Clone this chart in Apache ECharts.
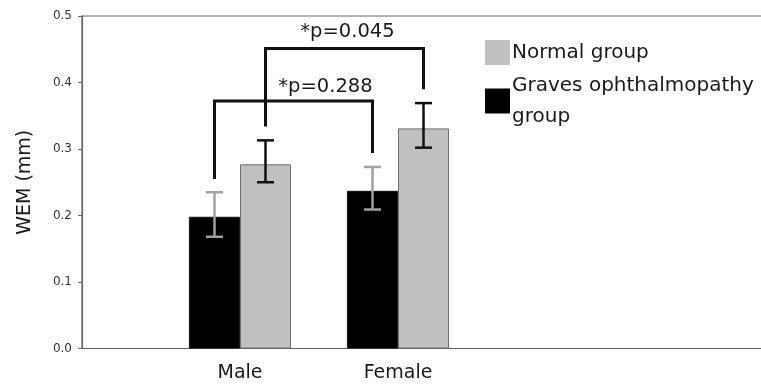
<!DOCTYPE html>
<html>
<head>
<meta charset="utf-8">
<script src="https://cdn.jsdelivr.net/npm/echarts@6/dist/echarts.min.js"></script>
<style>html,body{margin:0;padding:0;background:#fff;overflow:hidden}#c{width:761px;height:386px}</style>
</head>
<body>
<div id="c"></div>
<script>
// ---- data ----
var categories = ['', 'Male', 'Female', '', '', ''];
var gravesName = 'Graves ophthalmopathy group';
var normalName = 'Normal group';
var gravesValues = [null, 0.198, 0.237, null, null, null];
var normalValues = [null, 0.277, 0.331, null, null, null];
// error bars: [category index, low, high]
var gravesErr = [[1, 0.168, 0.235], [2, 0.209, 0.273]];
var normalErr = [[1, 0.250, 0.313], [2, 0.302, 0.369]];
// brackets: [fromCat, fromSide(-1 graves/+1 normal), toCat, toSide, top, leftEnd, rightEnd]
var brackets = [[1, -1, 2, -1, 0.372, 0.255, 0.294], [1, 1, 2, 1, 0.451, 0.334, 0.390]];
var bracketLabels = ['*p=0.288', '*p=0.045'];
var yTicks = [0, 0.1, 0.2, 0.3, 0.4, 0.5];

// ---- layout / style ----
var FONT = 'DejaVu Sans';
var BAR_W = 51;
var labelShift = [32, 3];
var labelRise = [14, 17];

var chart = echarts.init(document.getElementById('c'));

function errRender(color) {
  return function (params, api) {
    var side = params.seriesName === 'errG' ? -1 : 1;
    var lo = api.coord([api.value(0), api.value(1)]);
    var hi = api.coord([api.value(0), api.value(2)]);
    var x = lo[0] + side * BAR_W / 2;
    var cap = 8.5;
    var st = { stroke: color, lineWidth: 2.5 };
    return { type: 'group', children: [
      { type: 'line', shape: { x1: x, y1: lo[1], x2: x, y2: hi[1] }, style: st },
      { type: 'line', shape: { x1: x - cap, y1: lo[1], x2: x + cap, y2: lo[1] }, style: st },
      { type: 'line', shape: { x1: x - cap, y1: hi[1], x2: x + cap, y2: hi[1] }, style: st }
    ]};
  };
}

chart.setOption({
  animation: false,
  grid: { left: 82, top: 16, bottom: 37.5, right: -111, outerBoundsMode: 'none', containLabel: false,
    show: true, borderColor: '#666', borderWidth: 1.2 },
  legend: {
    data: [normalName, gravesName],
    orient: 'vertical', left: 480, top: 32,
    itemWidth: 25, itemHeight: 25, itemGap: 2,
    icon: 'rect',
    selectedMode: false,
    itemStyle: { borderWidth: 0 },
    formatter: function (n) { return n === gravesName ? 'Graves ophthalmopathy\ngroup' : n; },
    textStyle: { fontFamily: FONT, fontSize: 20, color: '#1a1a1a', lineHeight: 31, padding: [0, 0, 0, -3] }
  },
  xAxis: {
    type: 'category', data: categories, boundaryGap: false,
    axisLine: { lineStyle: { color: '#666', width: 1.2 } },
    axisTick: { show: false },
    axisLabel: { fontFamily: FONT, fontSize: 19, color: '#1a1a1a', margin: 15, interval: 0 },
    splitLine: { show: false }
  },
  yAxis: {
    type: 'value', min: 0, max: 0.5, interval: 0.1,
    name: 'WEM (mm)', nameLocation: 'middle', nameGap: 47,
    nameTextStyle: { fontFamily: FONT, fontSize: 19, color: '#1a1a1a' },
    axisLine: { show: true, lineStyle: { color: '#666', width: 1.2 } },
    axisTick: { show: true, length: 4, lineStyle: { color: '#666' } },
    axisLabel: { fontFamily: FONT, fontSize: 12, color: '#333', margin: 10,
      formatter: function (v) { return v.toFixed(1); } },
    splitLine: { show: false }
  },
  series: [
    { name: gravesName, type: 'bar', data: gravesValues, barWidth: BAR_W, barGap: '0%',
      itemStyle: { color: '#000', borderColor: '#000', borderWidth: 0.8 } },
    { name: normalName, type: 'bar', data: normalValues, barWidth: BAR_W, barGap: '0%',
      itemStyle: { color: '#c0c0c0', borderColor: '#6e6e6e', borderWidth: 1 } },
    { name: 'errG', type: 'custom', data: gravesErr, renderItem: errRender('#a0a0a0'), clip: false, z: 5 },
    { name: 'errN', type: 'custom', data: normalErr, renderItem: errRender('#111'), clip: false, z: 5 },
    { name: 'brackets', type: 'custom', data: brackets, clip: false, z: 6,
      renderItem: function (params, api) {
        var i = params.dataIndex;
        var top = api.value(4);
        var a = api.coord([api.value(0), top]);
        var b = api.coord([api.value(2), top]);
        var x1 = a[0] + api.value(1) * BAR_W / 2;
        var x2 = b[0] + api.value(3) * BAR_W / 2;
        var yl = api.coord([api.value(0), api.value(5)])[1];
        var yr = api.coord([api.value(2), api.value(6)])[1];
        return { type: 'group', children: [
          { type: 'polyline', shape: { points: [[x1, yl], [x1, a[1]], [x2, a[1]], [x2, yr]] },
            style: { stroke: '#111', lineWidth: 3, fill: null } },
          { type: 'text', x: (x1 + x2) / 2 + labelShift[i], y: a[1] - labelRise[i],
            style: { text: bracketLabels[i], fontFamily: FONT, fontSize: 19.5, fill: '#1a1a1a',
              align: 'center', verticalAlign: 'middle' } }
        ]};
      } }
  ]
});
</script>
</body>
</html>
